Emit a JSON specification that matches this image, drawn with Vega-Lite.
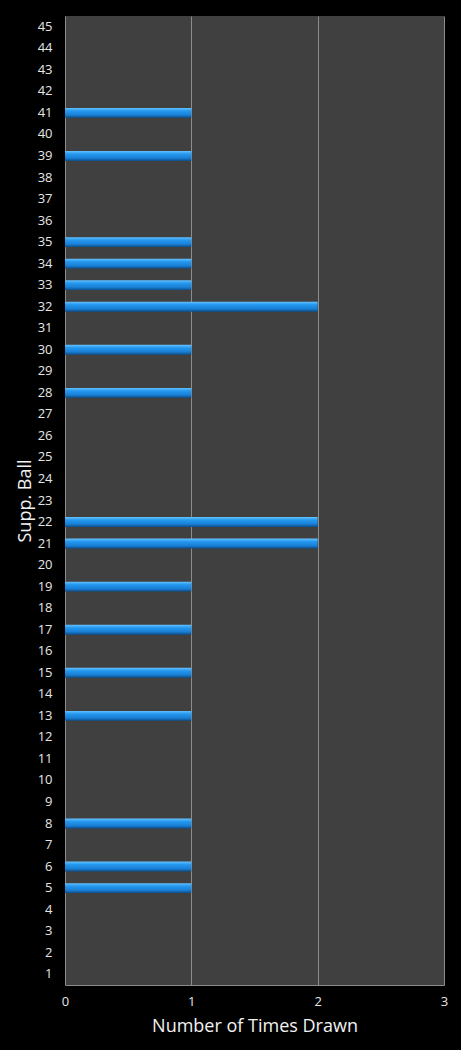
{
  "$schema": "https://vega.github.io/schema/vega-lite/v6.json",
  "width": 379,
  "height": 969,
  "autosize": {"type": "none"},
  "padding": {"left": 65, "top": 16, "right": 17, "bottom": 65},
  "background": "#000000",
  "config": {
    "view": {"stroke": null, "fill": "#404040"},
    "font": "Open Sans"
  },
  "data": {
    "values": [
      {"ball": "41", "times": 1},
      {"ball": "39", "times": 1},
      {"ball": "35", "times": 1},
      {"ball": "34", "times": 1},
      {"ball": "33", "times": 1},
      {"ball": "32", "times": 2},
      {"ball": "30", "times": 1},
      {"ball": "28", "times": 1},
      {"ball": "22", "times": 2},
      {"ball": "21", "times": 2},
      {"ball": "19", "times": 1},
      {"ball": "17", "times": 1},
      {"ball": "15", "times": 1},
      {"ball": "13", "times": 1},
      {"ball": "8", "times": 1},
      {"ball": "6", "times": 1},
      {"ball": "5", "times": 1}
    ]
  },
  "mark": {
    "type": "bar",
    "color": {
      "gradient": "linear",
      "x1": 0, "y1": 0, "x2": 0, "y2": 1,
      "stops": [
        {"offset": 0, "color": "#66c2ff"},
        {"offset": 0.3, "color": "#2498ef"},
        {"offset": 0.7, "color": "#1a80d6"},
        {"offset": 1, "color": "#0b4f8c"}
      ]
    }
  },
  "encoding": {
    "y": {
      "field": "ball",
      "type": "ordinal",
      "title": "Supp. Ball",
      "scale": {
        "domain": ["45","44","43","42","41","40","39","38","37","36","35","34","33","32","31","30","29","28","27","26","25","24","23","22","21","20","19","18","17","16","15","14","13","12","11","10","9","8","7","6","5","4","3","2","1"],
        "paddingInner": 0.54,
        "paddingOuter": 0.27
      },
      "axis": {
        "domain": false,
        "ticks": false,
        "labelPadding": 13,
        "labelColor": "#e6e6e6",
        "labelFontSize": 13,
        "titleColor": "#f2f2f2",
        "titleFontSize": 18,
        "titleFontWeight": "normal",
        "titlePadding": 3
      }
    },
    "x": {
      "field": "times",
      "type": "quantitative",
      "title": "Number of Times Drawn",
      "scale": {"domain": [0, 3]},
      "axis": {
        "values": [0, 1, 2, 3],
        "format": "d",
        "grid": true,
        "gridColor": "#8c8c8c",
        "gridWidth": 1,
        "domain": true,
        "domainColor": "#8c8c8c",
        "ticks": false,
        "labelFlush": false,
        "labelPadding": 10,
        "labelColor": "#e6e6e6",
        "labelFontSize": 13,
        "titleColor": "#f2f2f2",
        "titleFontSize": 18,
        "titleFontWeight": "normal",
        "titlePadding": 9
      }
    }
  }
}
